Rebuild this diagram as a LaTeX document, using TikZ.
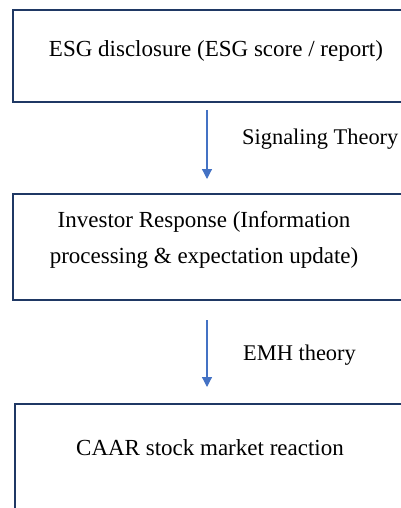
\documentclass[tikz,border=0pt]{standalone}
\usepackage{fontspec}
\setmainfont{Liberation Serif}
\usetikzlibrary{arrows.meta}
\definecolor{boxnavy}{HTML}{1F3864}
\definecolor{arrowblue}{HTML}{4472C4}
\begin{document}
\begin{tikzpicture}[x=1pt,y=-1pt,
    stagebox/.style={draw=boxnavy, line width=2pt, inner sep=0pt},
    stagetext/.style={font=\fontsize{23}{36}\selectfont, align=center, inner sep=0pt},
    theorytext/.style={font=\fontsize{22.4}{27}\selectfont, anchor=west, inner sep=0pt},
    flow/.style={draw=arrowblue, line width=1.2pt, -{Triangle[width=10pt,length=10pt]}}]
            \useasboundingbox (0,0) rectangle (401,508);
            \clip (0,0) rectangle (401,508);

            % boxes
            \node[stagebox, minimum width=388.5pt, minimum height=92pt] (disclosure) at (207.25,56) {};
            \node[stagebox, minimum width=388.5pt, minimum height=106.5pt] (response) at (207.25,246.75) {};
            \node[stagebox, minimum width=388pt, minimum height=108pt] (reaction) at (209,458) {};

            % texts
            \node[stagetext] (disclosuretext) at (216,51) {ESG disclosure (ESG score / report)};
            \node[stagetext] (responsetext) at (204,240) {Investor Response (Information\\processing \& expectation update)};
            \node[stagetext] (reactiontext) at (210,448) {CAAR stock market reaction};
            \node[theorytext] (signaling) at (242,139) {Signaling Theory};
            \node[theorytext] (emh) at (243,355) {EMH theory};

            % arrows
            \draw[flow, shorten <=7pt, shorten >=13.5pt] ([xshift=-0.25pt]disclosure.south) -- ([xshift=-0.25pt]response.north);
            \draw[flow, shorten <=19pt, shorten >=16pt] ([xshift=-0.25pt]response.south) -- ([xshift=-2pt]reaction.north);
\end{tikzpicture}
\end{document}
